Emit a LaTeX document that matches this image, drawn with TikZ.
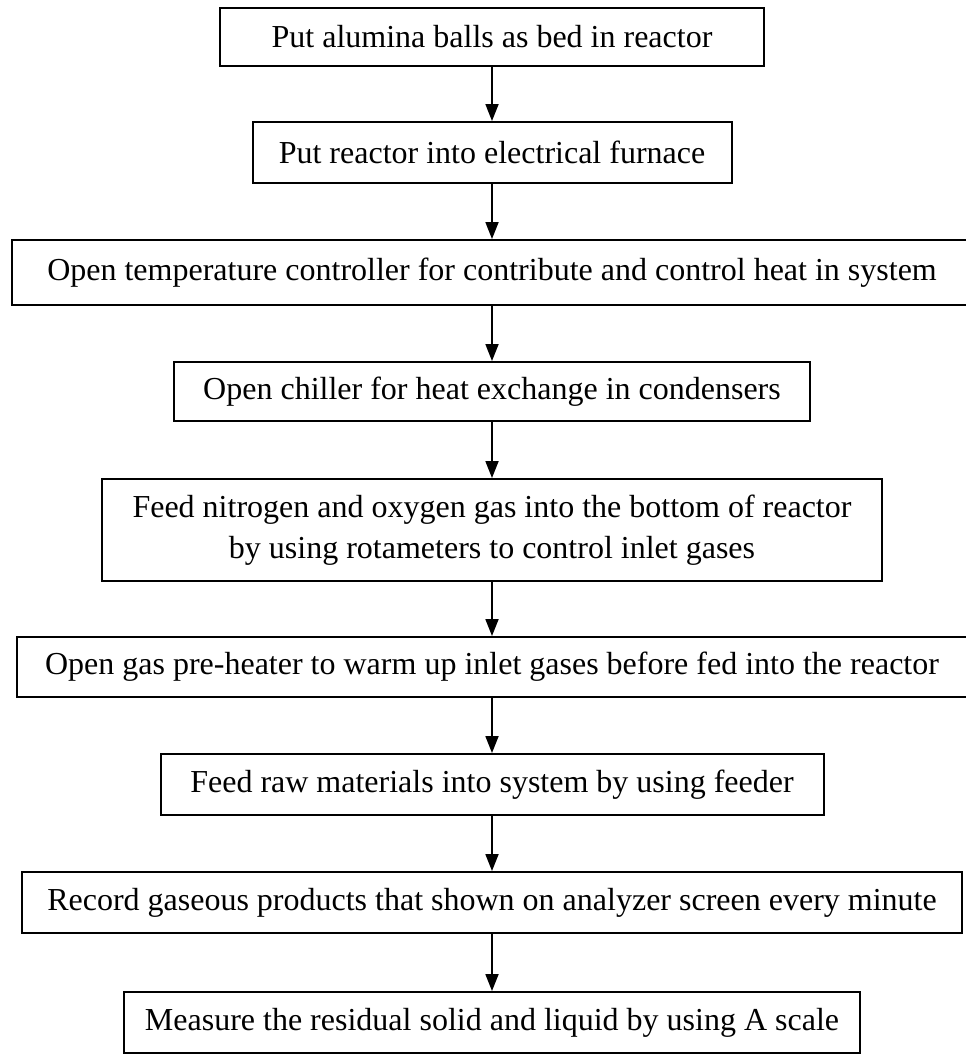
\documentclass[tikz,border=0pt]{standalone}
\usepackage{fontspec}
\setmainfont{Liberation Serif}
\usetikzlibrary{arrows.meta}

\tikzset{
    stepbox/.style={draw=black, line width=1pt, inner sep=0pt, align=center,
        font=\fontsize{16}{20.5}\selectfont},
    flow/.style={draw=black, line width=0.9pt, -{Triangle[width=6.5pt,length=8.5pt]}}
}

\begin{document}
\begin{tikzpicture}[x=0.5pt, y=-0.5pt]
        \useasboundingbox (0, 0) rectangle (965, 1055);
        \node [stepbox, minimum width=272pt, minimum height=29pt] (bed) at (492, 37) {Put alumina balls as bed in reactor};
        \node [stepbox, minimum width=239.5pt, minimum height=30.5pt] (furnace) at (492, 152.5) {Put reactor into electrical furnace};
        \node [stepbox, minimum width=480.5pt, minimum height=32.5pt] (heat) at (492, 272.5) {Open temperature controller for contribute and control heat in system};
        \node [stepbox, minimum width=318pt, minimum height=29.5pt] (chiller) at (492, 391.5) {Open chiller for heat exchange in condensers};
        \node [stepbox, minimum width=390pt, minimum height=51pt] (gasfeed) at (492, 530) {Feed nitrogen and oxygen gas into the bottom of reactor\\by using rotameters to control inlet gases};
        \node [stepbox, minimum width=475pt, minimum height=30pt] (preheat) at (492, 667) {Open gas pre-heater to warm up inlet gases before fed into the reactor};
        \node [stepbox, minimum width=331.5pt, minimum height=30.5pt] (feeder) at (492, 784.5) {Feed raw materials into system by using feeder};
        \node [stepbox, minimum width=470pt, minimum height=30.5pt] (record) at (492, 902.5) {Record gaseous products that shown on analyzer screen every minute};
        \node [stepbox, minimum width=368pt, minimum height=30.5pt] (scale) at (492, 1022.5) {Measure the residual solid and liquid by using A scale};

        \draw [flow] (bed) -- (furnace);
        \draw [flow] (furnace) -- (heat);
        \draw [flow] (heat) -- (chiller);
        \draw [flow] (chiller) -- (gasfeed);
        \draw [flow] (gasfeed) -- (preheat);
        \draw [flow] (preheat) -- (feeder);
        \draw [flow] (feeder) -- (record);
        \draw [flow] (record) -- (scale);
    \end{tikzpicture}
\end{document}
